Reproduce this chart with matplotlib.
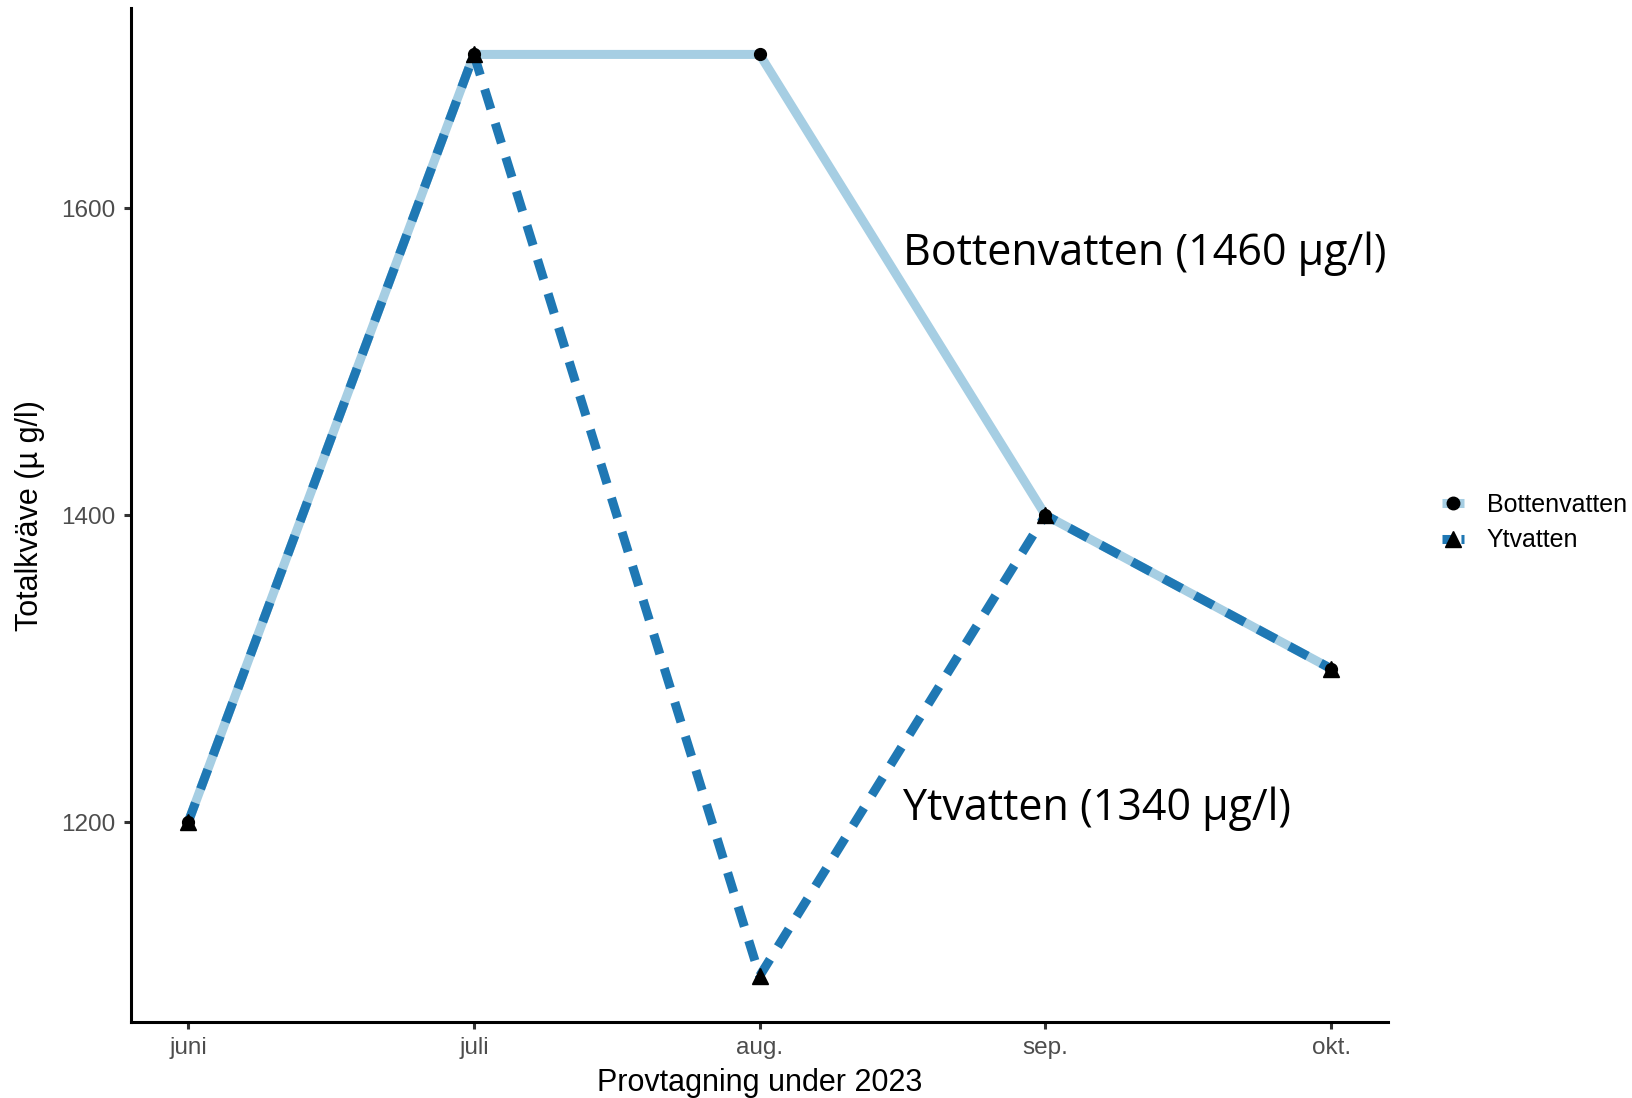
import matplotlib
matplotlib.use("Agg")
import matplotlib.pyplot as plt
from matplotlib.lines import Line2D

months = ["juni", "juli", "aug.", "sep.", "okt."]
botten = [1200, 1700, 1700, 1400, 1300]
yt = [1200, 1700, 1100, 1400, 1300]
y_ticks = [1200, 1400, 1600]
label_botten = "Bottenvatten (1460 µg/l)"
label_yt = "Ytvatten (1340 µg/l)"

C_BOTTEN = "#a6cee3"
C_YT = "#1f78b4"
LW = 6.5
DASH = (2.3, 1.65)

plt.rcParams["font.family"] = ["Liberation Sans", "DejaVu Sans"]

fig = plt.figure(figsize=(16.33, 10.98), dpi=100)
ax = fig.add_axes([0.0802, 0.0692, 0.770, 0.9232])

xs = list(range(1, len(months) + 1))
ax.plot(xs, botten, color=C_BOTTEN, lw=LW, solid_capstyle="butt", zorder=2)
ax.plot(xs, yt, color=C_YT, lw=LW, dashes=DASH, zorder=3)
ax.plot(xs, botten, "o", color="black", ms=8.5, zorder=4)
ax.plot(xs, yt, "^", color="black", ms=11, zorder=5)

ax.text(3.5, 1570, label_botten, ha="left", va="center",
        fontsize=31, family=["Open Sans", "DejaVu Sans"])
ax.text(3.5, 1209, label_yt, ha="left", va="center",
        fontsize=31, family=["Open Sans", "DejaVu Sans"])

ax.set_xlim(0.8, 5.2)
ax.set_ylim(1070, 1730)
ax.set_xticks(xs)
ax.set_xticklabels(months)
ax.set_yticks(y_ticks)

for s in ["top", "right"]:
    ax.spines[s].set_visible(False)
for s in ["left", "bottom"]:
    ax.spines[s].set_linewidth(2.2)
    ax.spines[s].set_color("black")
ax.tick_params(axis="both", length=5, width=2.2, color="#333333",
               labelsize=17.5, labelcolor="#4d4d4d", pad=6)

ax.set_xlabel("Provtagning under 2023", fontsize=22, labelpad=6)
ax.set_ylabel("Totalkväve (µ g/l)", fontsize=22, labelpad=12)

handles = [
    Line2D([0], [0], color=C_BOTTEN, lw=LW, marker="o", mfc="black",
           mec="black", ms=9, solid_capstyle="butt"),
    Line2D([0], [0], color=C_YT, lw=LW, dashes=(1.5, 0.6), marker="^",
           mfc="black", mec="black", ms=11),
]
fig.legend(handles, ["Bottenvatten", "Ytvatten"], loc="center left",
           bbox_to_anchor=(0.883, 0.524), frameon=False, fontsize=18,
           handlelength=0.9, handletextpad=0.9, labelspacing=0.45,
           borderpad=0, borderaxespad=0)

fig.savefig("out.png", dpi=100)
